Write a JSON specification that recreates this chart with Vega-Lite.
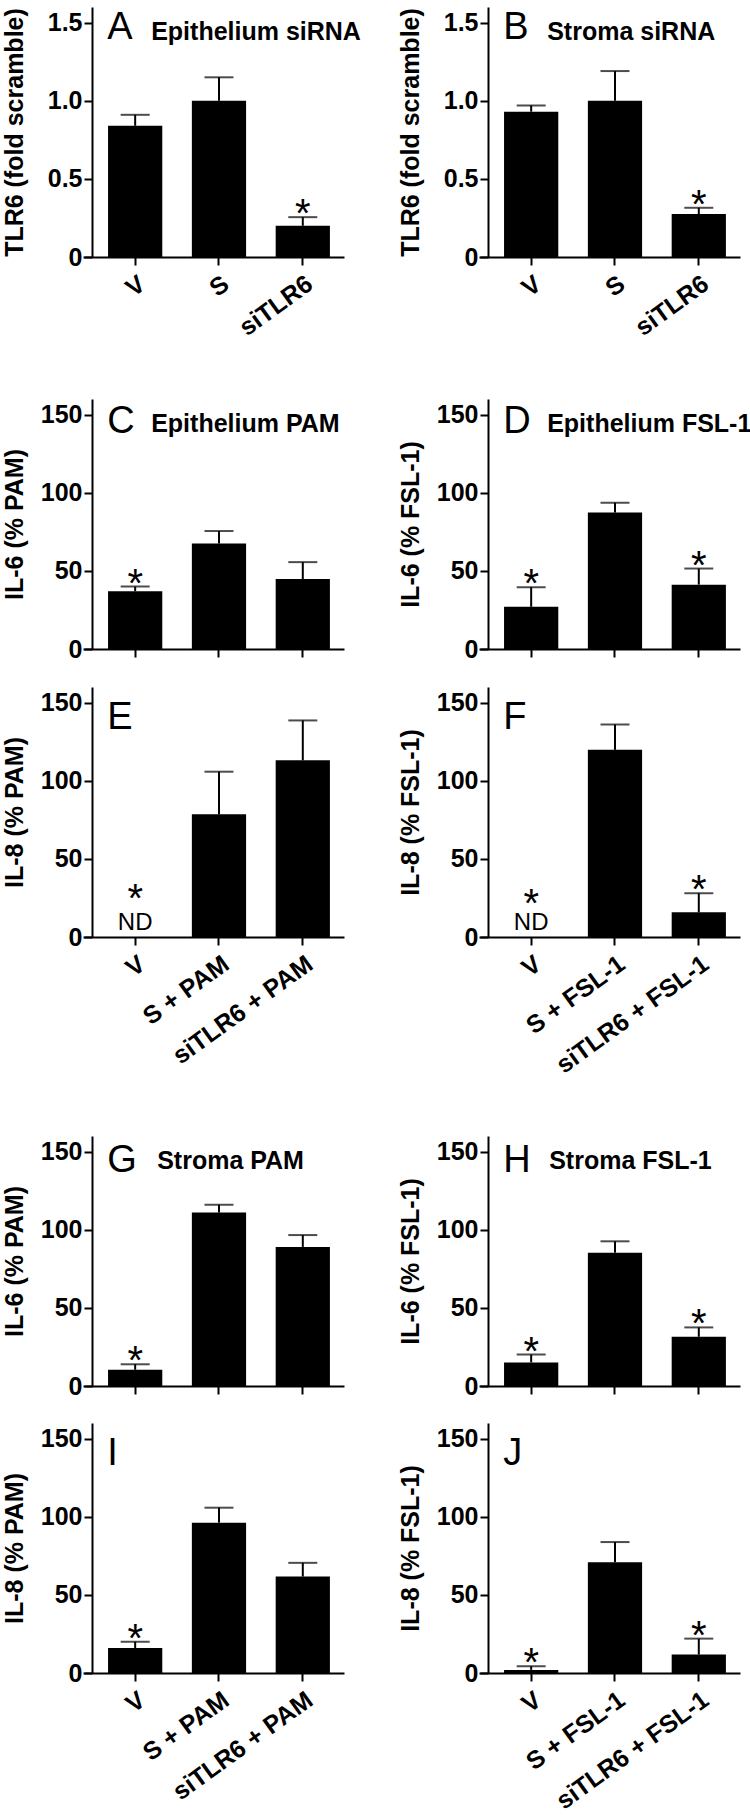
{
"$schema": "https://vega.github.io/schema/vega-lite/v6.json",
"padding": {"left": 2, "top": 7, "right": 0, "bottom": 5},
"datasets": {
"bars": [
{"panel":"A","group":"V","mean":0.84,"upper":0.91,"sig":"","nd":false,"note":""},
{"panel":"A","group":"S","mean":1.0,"upper":1.15,"sig":"","nd":false,"note":""},
{"panel":"A","group":"siTLR6","mean":0.2,"upper":0.255,"sig":"*","nd":false,"note":""},
{"panel":"B","group":"V","mean":0.93,"upper":0.97,"sig":"","nd":false,"note":""},
{"panel":"B","group":"S","mean":1.0,"upper":1.19,"sig":"","nd":false,"note":""},
{"panel":"B","group":"siTLR6","mean":0.275,"upper":0.315,"sig":"*","nd":false,"note":""},
{"panel":"C","group":"V","mean":37,"upper":40,"sig":"*","nd":false,"note":""},
{"panel":"C","group":"S + PAM","mean":67.5,"upper":75.5,"sig":"","nd":false,"note":""},
{"panel":"C","group":"siTLR6 + PAM","mean":44.8,"upper":55.6,"sig":"","nd":false,"note":""},
{"panel":"D","group":"V","mean":27,"upper":39.6,"sig":"*","nd":false,"note":""},
{"panel":"D","group":"S + FSL-1","mean":87.3,"upper":93.6,"sig":"","nd":false,"note":""},
{"panel":"D","group":"siTLR6 + FSL-1","mean":41.2,"upper":51.5,"sig":"*","nd":false,"note":""},
{"panel":"E","group":"V","mean":null,"upper":null,"sig":"*","nd":true,"note":"ND"},
{"panel":"E","group":"S + PAM","mean":78.5,"upper":105.8,"sig":"","nd":false,"note":""},
{"panel":"E","group":"siTLR6 + PAM","mean":113.1,"upper":138.6,"sig":"","nd":false,"note":""},
{"panel":"F","group":"V","mean":null,"upper":null,"sig":"*","nd":true,"note":"ND"},
{"panel":"F","group":"S + FSL-1","mean":119.8,"upper":136,"sig":"","nd":false,"note":""},
{"panel":"F","group":"siTLR6 + FSL-1","mean":15.8,"upper":28,"sig":"*","nd":false,"note":""},
{"panel":"G","group":"V","mean":10.4,"upper":13.9,"sig":"*","nd":false,"note":""},
{"panel":"G","group":"S + PAM","mean":111,"upper":116,"sig":"","nd":false,"note":""},
{"panel":"G","group":"siTLR6 + PAM","mean":89,"upper":96.6,"sig":"","nd":false,"note":""},
{"panel":"H","group":"V","mean":15.1,"upper":20.1,"sig":"*","nd":false,"note":""},
{"panel":"H","group":"S + FSL-1","mean":85.3,"upper":92.6,"sig":"","nd":false,"note":""},
{"panel":"H","group":"siTLR6 + FSL-1","mean":31.5,"upper":37.5,"sig":"*","nd":false,"note":""},
{"panel":"I","group":"V","mean":16,"upper":20,"sig":"*","nd":false,"note":""},
{"panel":"I","group":"S + PAM","mean":96.2,"upper":105.8,"sig":"","nd":false,"note":""},
{"panel":"I","group":"siTLR6 + PAM","mean":61.7,"upper":70.5,"sig":"","nd":false,"note":""},
{"panel":"J","group":"V","mean":2.0,"upper":4.4,"sig":"*","nd":false,"note":""},
{"panel":"J","group":"S + FSL-1","mean":70.9,"upper":83.8,"sig":"","nd":false,"note":""},
{"panel":"J","group":"siTLR6 + FSL-1","mean":11.8,"upper":22,"sig":"*","nd":false,"note":""}
],
"titles": [
{"panel":"A","letter":"A","title":"Epithelium siRNA"},
{"panel":"B","letter":"B","title":"Stroma siRNA"},
{"panel":"C","letter":"C","title":"Epithelium PAM"},
{"panel":"D","letter":"D","title":"Epithelium FSL-1"},
{"panel":"E","letter":"E","title":""},
{"panel":"F","letter":"F","title":""},
{"panel":"G","letter":"G","title":"Stroma PAM"},
{"panel":"H","letter":"H","title":"Stroma FSL-1"},
{"panel":"I","letter":"I","title":""},
{"panel":"J","letter":"J","title":""}
]
},
"spacing": 58,
"vconcat": [
{"hconcat": [
{"width":261,"height":250,
"encoding":{"x":{"field":"group","type":"nominal","scale":{"domain":["V","S","siTLR6"],"paddingInner":0.353,"paddingOuter":0.2335,"align":0.64},"axis":{"title":null}}},
"layer":[
{"data":{"name":"bars"},"transform":[{"filter":"datum.panel=='A'"}],"mark":{"type":"bar","color":"black"},"encoding":{"y":{"field":"mean","type":"quantitative","scale":{"domain":[0,1.5]},"axis":{"values":[0,0.5,1,1.5],"labelExpr":"datum.value==0?'0':format(datum.value,'.1f')","title":"TLR6 (fold scramble)","titlePadding":20}}}},
{"data":{"name":"bars"},"transform":[{"filter":"datum.panel=='A'"}],"mark":{"type":"rule","strokeWidth":2,"color":"black"},"encoding":{"y":{"field":"mean","type":"quantitative"},"y2":{"field":"upper"}}},
{"data":{"name":"bars"},"transform":[{"filter":"datum.panel=='A'"}],"mark":{"type":"tick","size":29,"thickness":2,"color":"black"},"encoding":{"y":{"field":"upper","type":"quantitative"}}},
{"data":{"name":"bars"},"transform":[{"filter":"datum.panel=='A' && datum.sig=='*' && !datum.nd"}],"mark":{"type":"text","style":"star"},"encoding":{"y":{"field":"upper","type":"quantitative"},"text":{"field":"sig"}}},
{"data":{"name":"titles"},"transform":[{"filter":"datum.panel=='A'"}],"mark":{"type":"text","style":"letter","dy":16},"encoding":{"x":{"datum":"V"},"y":{"datum":1.5},"text":{"field":"letter"}}},
{"data":{"name":"titles"},"transform":[{"filter":"datum.panel=='A'"}],"mark":{"type":"text","style":"ptitle"},"encoding":{"x":{"datum":"V"},"y":{"datum":1.5},"text":{"field":"title"}}}
]},
{"width":261,"height":250,
"encoding":{"x":{"field":"group","type":"nominal","scale":{"domain":["V","S","siTLR6"],"paddingInner":0.353,"paddingOuter":0.2335,"align":0.64},"axis":{"title":null}}},
"layer":[
{"data":{"name":"bars"},"transform":[{"filter":"datum.panel=='B'"}],"mark":{"type":"bar","color":"black"},"encoding":{"y":{"field":"mean","type":"quantitative","scale":{"domain":[0,1.5]},"axis":{"values":[0,0.5,1,1.5],"labelExpr":"datum.value==0?'0':format(datum.value,'.1f')","title":"TLR6 (fold scramble)","titlePadding":20}}}},
{"data":{"name":"bars"},"transform":[{"filter":"datum.panel=='B'"}],"mark":{"type":"rule","strokeWidth":2,"color":"black"},"encoding":{"y":{"field":"mean","type":"quantitative"},"y2":{"field":"upper"}}},
{"data":{"name":"bars"},"transform":[{"filter":"datum.panel=='B'"}],"mark":{"type":"tick","size":29,"thickness":2,"color":"black"},"encoding":{"y":{"field":"upper","type":"quantitative"}}},
{"data":{"name":"bars"},"transform":[{"filter":"datum.panel=='B' && datum.sig=='*' && !datum.nd"}],"mark":{"type":"text","style":"star"},"encoding":{"y":{"field":"upper","type":"quantitative"},"text":{"field":"sig"}}},
{"data":{"name":"titles"},"transform":[{"filter":"datum.panel=='B'"}],"mark":{"type":"text","style":"letter","dy":16},"encoding":{"x":{"datum":"V"},"y":{"datum":1.5},"text":{"field":"letter"}}},
{"data":{"name":"titles"},"transform":[{"filter":"datum.panel=='B'"}],"mark":{"type":"text","style":"ptitle"},"encoding":{"x":{"datum":"V"},"y":{"datum":1.5},"text":{"field":"title"}}}
]}
], "spacing": 135, "bounds": "flush"},
{"columns": 2, "spacing": {"row": 38, "column": 135}, "bounds": "flush", "concat": [
{"width":261,"height":250,
"encoding":{"x":{"field":"group","type":"nominal","scale":{"domain":["V","S + PAM","siTLR6 + PAM"],"paddingInner":0.353,"paddingOuter":0.2335,"align":0.64},"axis":{"title":null,"labels":false}}},
"layer":[
{"data":{"name":"bars"},"transform":[{"filter":"datum.panel=='C'"}],"mark":{"type":"bar","color":"black"},"encoding":{"y":{"field":"mean","type":"quantitative","scale":{"domain":[0,150]},"axis":{"values":[0,50,100,150],"title":"IL-6 (% PAM)"}}}},
{"data":{"name":"bars"},"transform":[{"filter":"datum.panel=='C'"}],"mark":{"type":"rule","strokeWidth":2,"color":"black"},"encoding":{"y":{"field":"mean","type":"quantitative"},"y2":{"field":"upper"}}},
{"data":{"name":"bars"},"transform":[{"filter":"datum.panel=='C'"}],"mark":{"type":"tick","size":29,"thickness":2,"color":"black"},"encoding":{"y":{"field":"upper","type":"quantitative"}}},
{"data":{"name":"bars"},"transform":[{"filter":"datum.panel=='C' && datum.sig=='*' && !datum.nd"}],"mark":{"type":"text","style":"star"},"encoding":{"y":{"field":"upper","type":"quantitative"},"text":{"field":"sig"}}},
{"data":{"name":"titles"},"transform":[{"filter":"datum.panel=='C'"}],"mark":{"type":"text","style":"letter","dy":18},"encoding":{"x":{"datum":"V"},"y":{"datum":150},"text":{"field":"letter"}}},
{"data":{"name":"titles"},"transform":[{"filter":"datum.panel=='C'"}],"mark":{"type":"text","style":"ptitle"},"encoding":{"x":{"datum":"V"},"y":{"datum":150},"text":{"field":"title"}}}
]},
{"width":261,"height":250,
"encoding":{"x":{"field":"group","type":"nominal","scale":{"domain":["V","S + FSL-1","siTLR6 + FSL-1"],"paddingInner":0.353,"paddingOuter":0.2335,"align":0.64},"axis":{"title":null,"labels":false}}},
"layer":[
{"data":{"name":"bars"},"transform":[{"filter":"datum.panel=='D'"}],"mark":{"type":"bar","color":"black"},"encoding":{"y":{"field":"mean","type":"quantitative","scale":{"domain":[0,150]},"axis":{"values":[0,50,100,150],"title":"IL-6 (% FSL-1)"}}}},
{"data":{"name":"bars"},"transform":[{"filter":"datum.panel=='D'"}],"mark":{"type":"rule","strokeWidth":2,"color":"black"},"encoding":{"y":{"field":"mean","type":"quantitative"},"y2":{"field":"upper"}}},
{"data":{"name":"bars"},"transform":[{"filter":"datum.panel=='D'"}],"mark":{"type":"tick","size":29,"thickness":2,"color":"black"},"encoding":{"y":{"field":"upper","type":"quantitative"}}},
{"data":{"name":"bars"},"transform":[{"filter":"datum.panel=='D' && datum.sig=='*' && !datum.nd"}],"mark":{"type":"text","style":"star"},"encoding":{"y":{"field":"upper","type":"quantitative"},"text":{"field":"sig"}}},
{"data":{"name":"titles"},"transform":[{"filter":"datum.panel=='D'"}],"mark":{"type":"text","style":"letter","dy":18},"encoding":{"x":{"datum":"V"},"y":{"datum":150},"text":{"field":"letter"}}},
{"data":{"name":"titles"},"transform":[{"filter":"datum.panel=='D'"}],"mark":{"type":"text","style":"ptitle"},"encoding":{"x":{"datum":"V"},"y":{"datum":150},"text":{"field":"title"}}}
]},
{"width":261,"height":250,
"encoding":{"x":{"field":"group","type":"nominal","scale":{"domain":["V","S + PAM","siTLR6 + PAM"],"paddingInner":0.353,"paddingOuter":0.2335,"align":0.64},"axis":{"title":null}}},
"layer":[
{"data":{"name":"bars"},"transform":[{"filter":"datum.panel=='E'"}],"mark":{"type":"bar","color":"black"},"encoding":{"y":{"field":"mean","type":"quantitative","scale":{"domain":[0,150]},"axis":{"values":[0,50,100,150],"title":"IL-8 (% PAM)"}}}},
{"data":{"name":"bars"},"transform":[{"filter":"datum.panel=='E'"}],"mark":{"type":"rule","strokeWidth":2,"color":"black"},"encoding":{"y":{"field":"mean","type":"quantitative"},"y2":{"field":"upper"}}},
{"data":{"name":"bars"},"transform":[{"filter":"datum.panel=='E'"}],"mark":{"type":"tick","size":29,"thickness":2,"color":"black"},"encoding":{"y":{"field":"upper","type":"quantitative"}}},
{"data":{"name":"bars"},"transform":[{"filter":"datum.panel=='E' && datum.nd"}],"mark":{"type":"text","style":"nd"},"encoding":{"y":{"datum":0},"text":{"field":"note"}}},
{"data":{"name":"bars"},"transform":[{"filter":"datum.panel=='E' && datum.nd"}],"mark":{"type":"text","style":"star","dy":-25},"encoding":{"y":{"datum":0},"text":{"field":"sig"}}},
{"data":{"name":"titles"},"transform":[{"filter":"datum.panel=='E'"}],"mark":{"type":"text","style":"letter","dy":26},"encoding":{"x":{"datum":"V"},"y":{"datum":150},"text":{"field":"letter"}}}
]},
{"width":261,"height":250,
"encoding":{"x":{"field":"group","type":"nominal","scale":{"domain":["V","S + FSL-1","siTLR6 + FSL-1"],"paddingInner":0.353,"paddingOuter":0.2335,"align":0.64},"axis":{"title":null}}},
"layer":[
{"data":{"name":"bars"},"transform":[{"filter":"datum.panel=='F'"}],"mark":{"type":"bar","color":"black"},"encoding":{"y":{"field":"mean","type":"quantitative","scale":{"domain":[0,150]},"axis":{"values":[0,50,100,150],"title":"IL-8 (% FSL-1)"}}}},
{"data":{"name":"bars"},"transform":[{"filter":"datum.panel=='F'"}],"mark":{"type":"rule","strokeWidth":2,"color":"black"},"encoding":{"y":{"field":"mean","type":"quantitative"},"y2":{"field":"upper"}}},
{"data":{"name":"bars"},"transform":[{"filter":"datum.panel=='F'"}],"mark":{"type":"tick","size":29,"thickness":2,"color":"black"},"encoding":{"y":{"field":"upper","type":"quantitative"}}},
{"data":{"name":"bars"},"transform":[{"filter":"datum.panel=='F' && datum.sig=='*' && !datum.nd"}],"mark":{"type":"text","style":"star"},"encoding":{"y":{"field":"upper","type":"quantitative"},"text":{"field":"sig"}}},
{"data":{"name":"bars"},"transform":[{"filter":"datum.panel=='F' && datum.nd"}],"mark":{"type":"text","style":"nd"},"encoding":{"y":{"datum":0},"text":{"field":"note"}}},
{"data":{"name":"bars"},"transform":[{"filter":"datum.panel=='F' && datum.nd"}],"mark":{"type":"text","style":"star","dy":-20},"encoding":{"y":{"datum":0},"text":{"field":"sig"}}},
{"data":{"name":"titles"},"transform":[{"filter":"datum.panel=='F'"}],"mark":{"type":"text","style":"letter","dy":26},"encoding":{"x":{"datum":"V"},"y":{"datum":150},"text":{"field":"letter"}}}
]}
]},
{"columns": 2, "spacing": {"row": 37, "column": 135}, "bounds": "flush", "concat": [
{"width":261,"height":250,
"encoding":{"x":{"field":"group","type":"nominal","scale":{"domain":["V","S + PAM","siTLR6 + PAM"],"paddingInner":0.353,"paddingOuter":0.2335,"align":0.64},"axis":{"title":null,"labels":false}}},
"layer":[
{"data":{"name":"bars"},"transform":[{"filter":"datum.panel=='G'"}],"mark":{"type":"bar","color":"black"},"encoding":{"y":{"field":"mean","type":"quantitative","scale":{"domain":[0,150]},"axis":{"values":[0,50,100,150],"title":"IL-6 (% PAM)"}}}},
{"data":{"name":"bars"},"transform":[{"filter":"datum.panel=='G'"}],"mark":{"type":"rule","strokeWidth":2,"color":"black"},"encoding":{"y":{"field":"mean","type":"quantitative"},"y2":{"field":"upper"}}},
{"data":{"name":"bars"},"transform":[{"filter":"datum.panel=='G'"}],"mark":{"type":"tick","size":29,"thickness":2,"color":"black"},"encoding":{"y":{"field":"upper","type":"quantitative"}}},
{"data":{"name":"bars"},"transform":[{"filter":"datum.panel=='G' && datum.sig=='*' && !datum.nd"}],"mark":{"type":"text","style":"star"},"encoding":{"y":{"field":"upper","type":"quantitative"},"text":{"field":"sig"}}},
{"data":{"name":"titles"},"transform":[{"filter":"datum.panel=='G'"}],"mark":{"type":"text","style":"letter","dy":20},"encoding":{"x":{"datum":"V"},"y":{"datum":150},"text":{"field":"letter"}}},
{"data":{"name":"titles"},"transform":[{"filter":"datum.panel=='G'"}],"mark":{"type":"text","style":"ptitle","dx":22},"encoding":{"x":{"datum":"V"},"y":{"datum":150},"text":{"field":"title"}}}
]},
{"width":261,"height":250,
"encoding":{"x":{"field":"group","type":"nominal","scale":{"domain":["V","S + FSL-1","siTLR6 + FSL-1"],"paddingInner":0.353,"paddingOuter":0.2335,"align":0.64},"axis":{"title":null,"labels":false}}},
"layer":[
{"data":{"name":"bars"},"transform":[{"filter":"datum.panel=='H'"}],"mark":{"type":"bar","color":"black"},"encoding":{"y":{"field":"mean","type":"quantitative","scale":{"domain":[0,150]},"axis":{"values":[0,50,100,150],"title":"IL-6 (% FSL-1)"}}}},
{"data":{"name":"bars"},"transform":[{"filter":"datum.panel=='H'"}],"mark":{"type":"rule","strokeWidth":2,"color":"black"},"encoding":{"y":{"field":"mean","type":"quantitative"},"y2":{"field":"upper"}}},
{"data":{"name":"bars"},"transform":[{"filter":"datum.panel=='H'"}],"mark":{"type":"tick","size":29,"thickness":2,"color":"black"},"encoding":{"y":{"field":"upper","type":"quantitative"}}},
{"data":{"name":"bars"},"transform":[{"filter":"datum.panel=='H' && datum.sig=='*' && !datum.nd"}],"mark":{"type":"text","style":"star"},"encoding":{"y":{"field":"upper","type":"quantitative"},"text":{"field":"sig"}}},
{"data":{"name":"titles"},"transform":[{"filter":"datum.panel=='H'"}],"mark":{"type":"text","style":"letter","dy":20},"encoding":{"x":{"datum":"V"},"y":{"datum":150},"text":{"field":"letter"}}},
{"data":{"name":"titles"},"transform":[{"filter":"datum.panel=='H'"}],"mark":{"type":"text","style":"ptitle","dx":18},"encoding":{"x":{"datum":"V"},"y":{"datum":150},"text":{"field":"title"}}}
]},
{"width":261,"height":250,
"encoding":{"x":{"field":"group","type":"nominal","scale":{"domain":["V","S + PAM","siTLR6 + PAM"],"paddingInner":0.353,"paddingOuter":0.2335,"align":0.64},"axis":{"title":null}}},
"layer":[
{"data":{"name":"bars"},"transform":[{"filter":"datum.panel=='I'"}],"mark":{"type":"bar","color":"black"},"encoding":{"y":{"field":"mean","type":"quantitative","scale":{"domain":[0,150]},"axis":{"values":[0,50,100,150],"title":"IL-8 (% PAM)"}}}},
{"data":{"name":"bars"},"transform":[{"filter":"datum.panel=='I'"}],"mark":{"type":"rule","strokeWidth":2,"color":"black"},"encoding":{"y":{"field":"mean","type":"quantitative"},"y2":{"field":"upper"}}},
{"data":{"name":"bars"},"transform":[{"filter":"datum.panel=='I'"}],"mark":{"type":"tick","size":29,"thickness":2,"color":"black"},"encoding":{"y":{"field":"upper","type":"quantitative"}}},
{"data":{"name":"bars"},"transform":[{"filter":"datum.panel=='I' && datum.sig=='*' && !datum.nd"}],"mark":{"type":"text","style":"star"},"encoding":{"y":{"field":"upper","type":"quantitative"},"text":{"field":"sig"}}},
{"data":{"name":"titles"},"transform":[{"filter":"datum.panel=='I'"}],"mark":{"type":"text","style":"letter","dy":26},"encoding":{"x":{"datum":"V"},"y":{"datum":150},"text":{"field":"letter"}}}
]},
{"width":261,"height":250,
"encoding":{"x":{"field":"group","type":"nominal","scale":{"domain":["V","S + FSL-1","siTLR6 + FSL-1"],"paddingInner":0.353,"paddingOuter":0.2335,"align":0.64},"axis":{"title":null}}},
"layer":[
{"data":{"name":"bars"},"transform":[{"filter":"datum.panel=='J'"}],"mark":{"type":"bar","color":"black"},"encoding":{"y":{"field":"mean","type":"quantitative","scale":{"domain":[0,150]},"axis":{"values":[0,50,100,150],"title":"IL-8 (% FSL-1)"}}}},
{"data":{"name":"bars"},"transform":[{"filter":"datum.panel=='J'"}],"mark":{"type":"rule","strokeWidth":2,"color":"black"},"encoding":{"y":{"field":"mean","type":"quantitative"},"y2":{"field":"upper"}}},
{"data":{"name":"bars"},"transform":[{"filter":"datum.panel=='J'"}],"mark":{"type":"tick","size":29,"thickness":2,"color":"black"},"encoding":{"y":{"field":"upper","type":"quantitative"}}},
{"data":{"name":"bars"},"transform":[{"filter":"datum.panel=='J' && datum.sig=='*' && !datum.nd"}],"mark":{"type":"text","style":"star"},"encoding":{"y":{"field":"upper","type":"quantitative"},"text":{"field":"sig"}}},
{"data":{"name":"titles"},"transform":[{"filter":"datum.panel=='J'"}],"mark":{"type":"text","style":"letter","dy":26},"encoding":{"x":{"datum":"V"},"y":{"datum":150},"text":{"field":"letter"}}}
]}
]}
],
"config": {
"view": {"stroke": null},
"font": "Liberation Sans",
"axis": {"domainColor":"black","domainWidth":2,"tickColor":"black","tickWidth":2,"tickSize":8,"labelColor":"black","labelFont":"Liberation Sans","labelFontWeight":"bold","labelFontSize":25,"titleFont":"Liberation Sans","titleFontWeight":"bold","titleFontSize":25,"titleColor":"black","grid":false,"labelOverlap":false,"labelLimit":0},
"axisX": {"labelAngle": -36, "labelPadding": 6},
"axisY": {"labelPadding": 2, "titlePadding": 13, "offset": -9},
"style": {
"star": {"font":"Liberation Sans","fontSize":40,"fontWeight":"normal","align":"center","baseline":"alphabetic","dy":10,"color":"black"},
"letter": {"font":"Liberation Sans","fontSize":38,"fontWeight":"normal","align":"left","baseline":"alphabetic","dx":-28,"color":"black"},
"ptitle": {"font":"Liberation Sans","fontSize":25,"fontWeight":"bold","align":"left","baseline":"alphabetic","dx":16,"dy":17,"color":"black"},
"nd": {"font":"Liberation Sans","fontSize":24,"fontWeight":"normal","align":"center","baseline":"alphabetic","dy":-7,"color":"black"}
}
}
}
